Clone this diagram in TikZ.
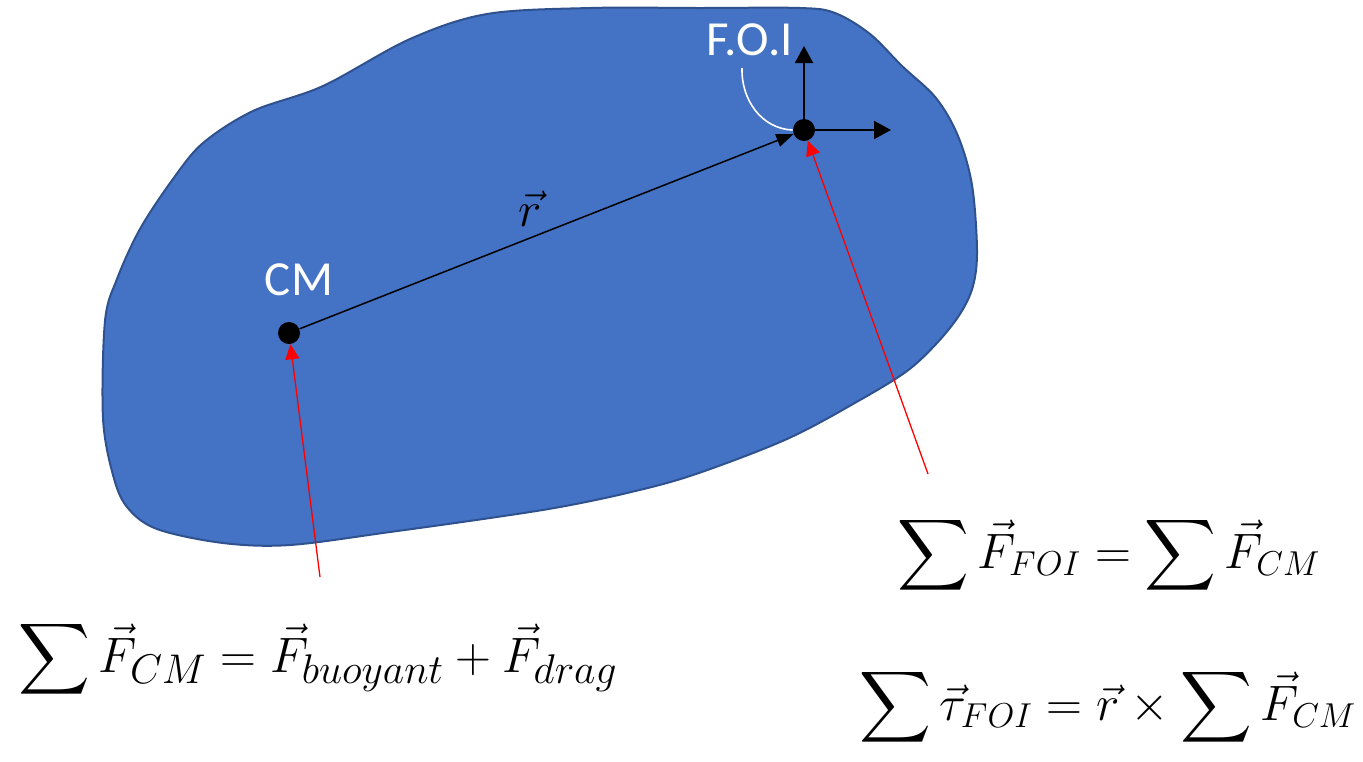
\documentclass[tikz,border=0pt]{standalone}
\usepackage{amsmath}
\usepackage{exscale}
\usepackage{fontspec}
\setsansfont{Carlito}
\usetikzlibrary{arrows.meta}
\definecolor{blobfill}{HTML}{4472C4}
\definecolor{blobedge}{HTML}{2F528F}
\begin{document}
\begin{tikzpicture}[x=0.5pt,y=-0.5pt,
  dot/.style={circle,fill=black,inner sep=0pt,minimum size=11pt},
  lbl/.style={text=white,inner sep=0pt,font=\sffamily\fontsize{24.5}{28}\selectfont},
  eqn/.style={inner sep=0pt,anchor=base,font=\fontsize{27.5}{33}\selectfont},
  eqnr/.style={inner sep=0pt,anchor=base,font=\fontsize{26}{31}\selectfont},
  rvec/.style={black,line width=0.75pt,-{Triangle[length=8.5pt,width=6.5pt]}},
  axis/.style={black,line width=1pt,-{Triangle[length=8.5pt,width=9pt]}},
  redarr/.style={red,line width=0.65pt,-{Triangle[length=7.5pt,width=7pt]}},
  pointer/.style={white,line width=0.8pt}]
\useasboundingbox (0,0) rectangle (1363,761);
% blob
\draw[fill=blobfill,draw=blobedge,line width=1pt]
  plot[smooth cycle,tension=0.55] coordinates {
  (487,14) (590,8) (700,8) (800,8) (835,13) (870,34) (902,66) (936,98)
  (958,136) (972,185) (977,250) (973,286) (960,314) (937,343)
  (907,371) (860,400) (787,439) (693,475) (627,493) (560,507) (490,518)
  (390,532) (290,545) (223,543) (157,529) (127,507) (113,475) (103,418)
  (105,321) (117,279) (140,229) (173,179) (203,143) (253,111) (323,86) (410,39)};
% points
\node[dot] (cm) at (289,333) {};
\node[dot] (foi) at (804,130) {};
\node[lbl] (cmlbl) at (299,280) {CM};
\node[lbl] (foilbl) at (750,40) {F.O.I};
% position vector
\draw[rvec] (cm) -- (foi);
\node[eqn] (rlbl) at (530,226) {$\vec{r}$};
% axes
\coordinate (yup) at (804,46);
\coordinate (xright) at (891,130);
\draw[axis] (foi.center) -- (yup);
\draw[axis] (foi.center) -- (xright);
% pointer from label
\coordinate (ptrstart) at (742,68);
\draw[pointer] (ptrstart) to[out=-92,in=178] (foi.west);
% red force arrows
\coordinate (redcm) at (320,577);
\coordinate (redfoi) at (928,474);
\draw[redarr] (redcm) -- (cm);
\draw[redarr] (redfoi) -- (foi);
% equations
\node[eqn] (eqa) at (318,672) {$\displaystyle \sum \vec{F}_{CM} = \vec{F}_{buoyant} + \vec{F}_{drag}$};
\node[eqnr] (eqb) at (1109,568) {$\displaystyle \sum \vec{F}_{FOI} = \sum \vec{F}_{CM}$};
\node[eqnr] (eqc) at (1108,720) {$\displaystyle \sum \vec{\tau}_{FOI} = \vec{r} \times \sum \vec{F}_{CM}$};
\end{tikzpicture}
\end{document}
